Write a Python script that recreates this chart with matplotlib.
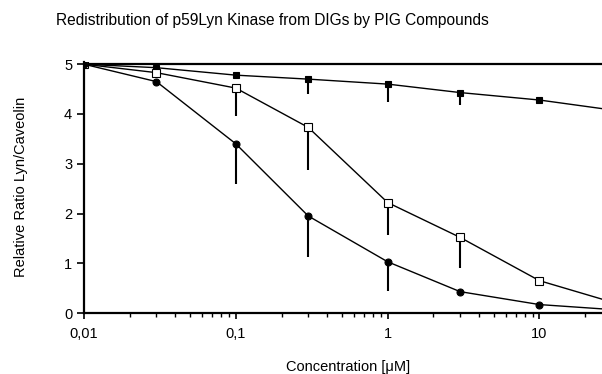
import matplotlib
matplotlib.use("Agg")
import numpy as np
import matplotlib.pyplot as plt
from matplotlib.ticker import FixedLocator, LogLocator, NullFormatter

plt.rcParams['font.family'] = ['Liberation Sans', 'DejaVu Sans']

conc = [0.01, 0.03, 0.1, 0.3, 1, 3, 10, 30]

# control (flat line at 5)
ctrl = [5.0, 5.0, 5.0, 5.0, 5.0, 5.0, 5.0, 5.0]

# small filled squares
sq_fill = [5.0, 4.93, 4.78, 4.70, 4.60, 4.43, 4.28, 4.08]
sq_fill_err = [0, 0, 0, 0.30, 0.35, 0.25, 0, 0]

# open squares
sq_open = [5.0, 4.83, 4.52, 3.73, 2.22, 1.52, 0.65, 0.22]
sq_open_err = [0, 0, 0.57, 0.85, 0.65, 0.62, 0, 0]

# filled circles
circ = [5.0, 4.65, 3.40, 1.95, 1.03, 0.43, 0.17, 0.07]
circ_err = [0, 0, 0.80, 0.82, 0.59, 0, 0, 0]

fig = plt.figure(figsize=(6.02, 3.74), dpi=100)
ax = fig.add_axes([0.1395, 0.163, 0.877, 0.672])

ax.plot(conc, ctrl, color='black', lw=1.6)

def series(y, err, marker, face, ms):
    y = np.array(y); err = np.array(err)
    ax.errorbar(conc, y, yerr=[err, np.zeros_like(err)], color='black', lw=1.0,
                elinewidth=1.5, capsize=0, marker=marker, ms=ms,
                mfc=face, mec='black', mew=0.8)

series(sq_fill, sq_fill_err, 's', 'black', 4)
series(sq_open, sq_open_err, 's', 'white', 6)
series(circ, circ_err, 'o', 'black', 5)

ax.set_xscale('log')
ax.set_xlim(0.01, 30)
ax.set_ylim(0, 5.05)
ax.set_yticks([0, 1, 2, 3, 4, 5])
ax.xaxis.set_major_locator(FixedLocator([0.01, 0.1, 1, 10]))
ax.set_xticklabels(['0,01', '0,1', '1', '10'])
ax.xaxis.set_minor_locator(LogLocator(base=10, subs=np.arange(2, 10)))
ax.xaxis.set_minor_formatter(NullFormatter())
ax.tick_params(axis='x', which='major', direction='out', length=4, width=1.2, labelsize=10.5, pad=6)
ax.tick_params(axis='x', which='minor', direction='out', length=3, width=1.0)
ax.tick_params(axis='y', direction='out', length=5, width=1.2, labelsize=10.5)

for s in ['top', 'right']:
    ax.spines[s].set_visible(False)
for s in ['left', 'bottom']:
    ax.spines[s].set_linewidth(1.6)

ax.set_xlabel('Concentration [\u03bcM]', fontsize=10.5, labelpad=14)
ax.set_ylabel('Relative Ratio Lyn/Caveolin', fontsize=10.5, labelpad=26)
fig.text(0.452, 0.945, 'Redistribution of p59Lyn Kinase from DIGs by PIG Compounds',
         ha='center', va='center', fontsize=11.2)

plt.savefig('out.png', dpi=100)
